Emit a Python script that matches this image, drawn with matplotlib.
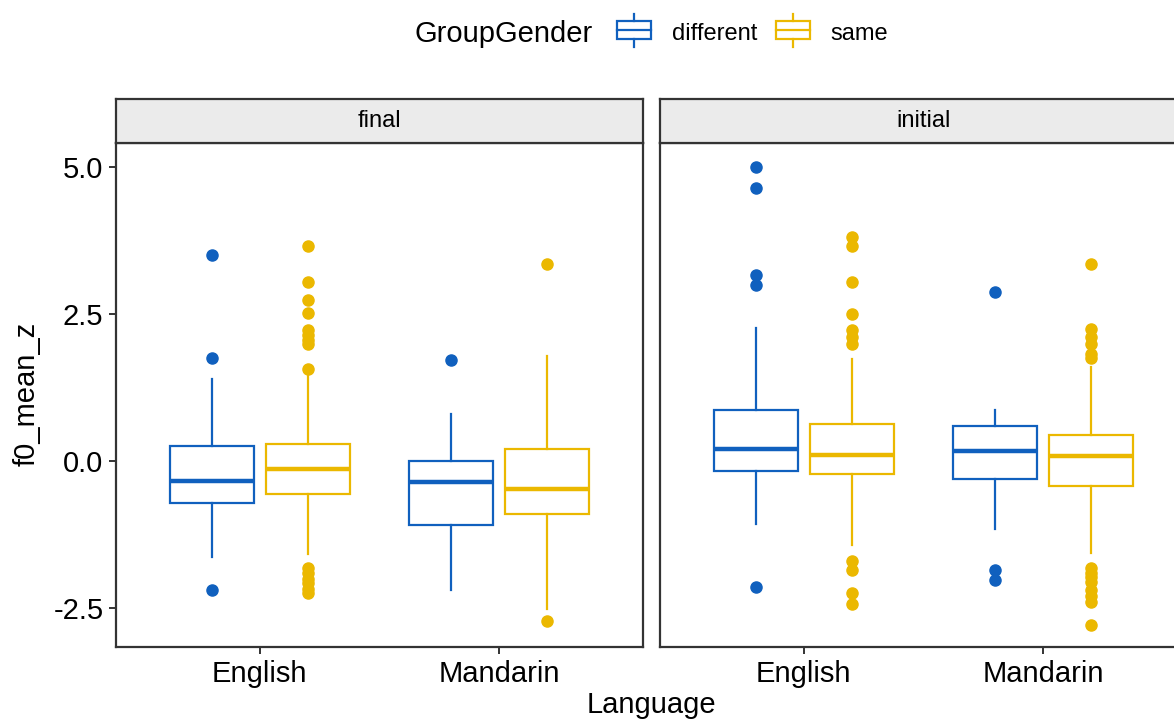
import numpy as np
import matplotlib.pyplot as plt
from matplotlib.legend_handler import HandlerBase
from matplotlib.patches import Rectangle
from matplotlib.lines import Line2D

plt.rcParams['font.family'] = ['Liberation Sans', 'DejaVu Sans']

# DATA
panels = ["final", "initial"]
languages = ["English", "Mandarin"]
groups = ["different", "same"]
colors = ["#1060BE", "#EBB800"]

# (whislo, q1, median, q3, whishi) for [language][group]
final_stats = [
    [(-1.63, -0.71, -0.335, 0.255, 1.40), (-1.58, -0.55, -0.125, 0.29, 1.50)],
    [(-2.19, -1.08, -0.35, 0.005, 0.81), (-2.52, -0.89, -0.47, 0.215, 1.79)],
]
initial_stats = [
    [(-1.07, -0.165, 0.20, 0.87, 2.26), (-1.43, -0.21, 0.11, 0.64, 1.73)],
    [(-1.16, -0.31, 0.17, 0.595, 0.87), (-1.57, -0.42, 0.085, 0.45, 1.60)],
]
final_fliers = [
    [[3.50, 1.75, -2.19],
     [3.66, 3.05, 2.74, 2.52, 2.23, 2.15, 2.06, 2.0, 1.56,
      -1.81, -1.90, -2.0, -2.08, -2.17, -2.25]],
    [[1.72],
     [3.36, -2.72]],
]
initial_fliers = [
    [[5.01, 4.65, 3.16, 2.99, -2.14],
     [3.82, 3.66, 3.05, 2.51, 2.23, 2.11, 2.0,
      -1.70, -1.85, -2.24, -2.43]],
    [[2.87, -1.85, -2.02],
     [3.36, 2.24, 2.11, 2.0, 1.83, 1.75,
      -1.81, -1.90, -1.97, -2.05, -2.19, -2.30, -2.39, -2.79]],
]
yticks = [-2.5, 0.0, 2.5, 5.0]

W, H = 1174, 724
fig = plt.figure(figsize=(W / 100, H / 100), dpi=100)

def fx(px):
    return px / W

def fy(py):
    return 1 - py / H

# panel pixel boxes: left, right (right panel runs past the image edge)
panel_x = [(116, 643), (660, 1187)]
top, bottom, strip_top = 143, 647, 99

axes = []
offsets = [-0.2, 0.2]
for k, (name, stats, fliers) in enumerate(zip(panels, [final_stats, initial_stats],
                                              [final_fliers, initial_fliers])):
    x0, x1 = panel_x[k]
    ax = fig.add_axes([fx(x0), fy(bottom), fx(x1 - x0), fy(top) - fy(bottom)])
    axes.append(ax)
    for i, lang in enumerate(languages):
        for j, grp in enumerate(groups):
            lo, q1, med, q3, hi = stats[i][j]
            st = dict(whislo=lo, q1=q1, med=med, q3=q3, whishi=hi,
                      fliers=np.array(fliers[i][j]))
            c = colors[j]
            ax.bxp([st], positions=[i + 1 + offsets[j]], widths=0.35,
                   showcaps=False, patch_artist=True,
                   boxprops=dict(facecolor="white", edgecolor=c, linewidth=1.6),
                   whiskerprops=dict(color=c, linewidth=1.6),
                   medianprops=dict(color=c, linewidth=3.2, solid_capstyle="butt"),
                   flierprops=dict(marker="o", markerfacecolor=c, markeredgecolor=c,
                                   markersize=8))
    ax.set_xlim(0.4, 2.6)
    ax.set_ylim(-3.16, 5.41)
    ax.set_xticks([1, 2])
    ax.set_xticklabels(languages, fontsize=21)
    ax.set_yticks(yticks)
    ax.tick_params(length=5, width=1.4, color="#333333", labelsize=21,
                   labelcolor="black", pad=4)
    for s in ax.spines.values():
        s.set_linewidth(1.6)
        s.set_color("#333333")
    # facet strip
    sax = fig.add_axes([fx(x0), fy(top), fx(x1 - x0), fy(strip_top) - fy(top)])
    sax.set_facecolor("#EBEBEB")
    sax.set_xticks([])
    sax.set_yticks([])
    for s in sax.spines.values():
        s.set_linewidth(1.6)
        s.set_color("#333333")
    sax.text(0.5, 0.5, name, ha="center", va="center", fontsize=17,
             transform=sax.transAxes)

axes[0].set_yticklabels([f"{t:.1f}" for t in yticks])
axes[1].tick_params(axis="y", left=False, labelleft=False)

fig.text(fx(27), fy(394), "f0_mean_z", rotation=90, ha="center", va="center",
         fontsize=21)
fig.text(fx(651), fy(705), "Language", ha="center", va="center", fontsize=21)


class BoxHandler(HandlerBase):
    def create_artists(self, legend, orig, xd, yd, width, height, fontsize, trans):
        c = orig.get_color()
        rect = Rectangle((xd, yd), width, height, facecolor="white",
                         edgecolor=c, lw=1.6, transform=trans)
        mid = Line2D([xd, xd + width], [yd + height * 0.5] * 2, color=c, lw=1.6,
                     transform=trans)
        up = Line2D([xd + width / 2] * 2, [yd + height, yd + height * 1.4],
                    color=c, lw=1.6, transform=trans)
        down = Line2D([xd + width / 2] * 2, [yd - height * 0.4, yd],
                      color=c, lw=1.6, transform=trans)
        return [rect, mid, up, down]


fig.text(fx(415), fy(34), "GroupGender", ha="left", va="center", fontsize=21)
handles = [Line2D([], [], color=c) for c in colors]
fig.legend(handles, groups, loc="center left", bbox_to_anchor=(fx(596), fy(34)),
           ncol=2, frameon=False, fontsize=17,
           handler_map={Line2D: BoxHandler()},
           handlelength=1.45, handleheight=0.8, columnspacing=0.8,
           handletextpad=0.85)

fig.savefig("out.png", dpi=100)
